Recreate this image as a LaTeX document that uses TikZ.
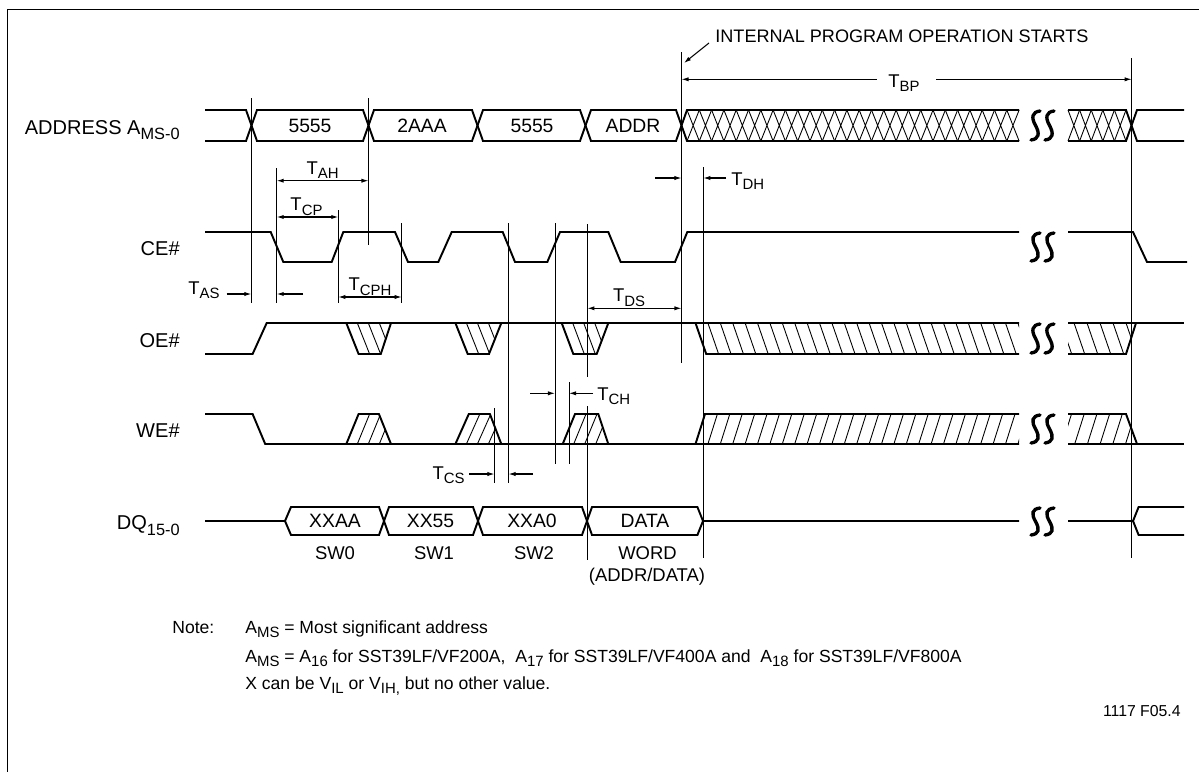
\documentclass[tikz,border=0pt]{standalone}
\usepackage{fontspec}
\setmainfont{Liberation Sans}
\usetikzlibrary{arrows.meta}
\newcommand{\lo}[1]{\raisebox{-0.45ex}{\fontsize{8.5pt}{9pt}\selectfont #1}}
\newcommand{\lob}[1]{\raisebox{-3.2pt}{\fontsize{9.3pt}{10pt}\selectfont #1}}
\newcommand{\ess}[3]{\draw[brk] (#1+9,#2+1) .. controls (#1+1,#2+2) and (#1,#2/2+#3/2-8) .. (#1+4.5,#2/2+#3/2) .. controls (#1+9,#2/2+#3/2+8) and (#1+8,#3-2) .. (#1,#3-1);}
\newcommand{\brk}[2]{\ess{1031}{#1}{#2}\ess{1045}{#1}{#2}}
\newcommand{\oetrap}[4]{\draw[sig] (#1,323) -- (#2,354) -- (#3,354) -- (#4,323);
  \begin{scope}
    \clip (#1,323) -- (#2,354) -- (#3,354) -- (#4,323) -- cycle;
    \foreach \hh in {11,22,33} \draw[hatch] (#1+\hh,323) -- (#2+\hh,354);
  \end{scope}}
\newcommand{\wetrap}[4]{\draw[sig] (#1,444) -- (#2,414) -- (#3,414) -- (#4,444);
  \begin{scope}
    \clip (#1,444) -- (#2,414) -- (#3,414) -- (#4,444) -- cycle;
    \foreach \hh in {11,22,33} \draw[hatch] (#1+\hh,444) -- (#2+\hh,414);
  \end{scope}}
\tikzset{
  sig/.style={line width=1.1pt},
  guide/.style={line width=0.55pt},
  hatch/.style={line width=0.5pt},
  brk/.style={line width=1.9pt, line cap=round},
  dimarrow/.style={line width=0.6pt, -{Latex[length=4pt,width=2.4pt]}},
  dimboth/.style={line width=0.6pt, {Latex[length=4pt,width=2.4pt]}-{Latex[length=4pt,width=2.4pt]}},
  signame/.style={inner sep=0pt, anchor=base east, font=\fontsize{11.4pt}{13pt}\selectfont},
  lbl/.style={inner sep=0pt, font=\fontsize{10.5pt}{12pt}\selectfont},
  val/.style={inner sep=0pt, font=\fontsize{11pt}{13pt}\selectfont},
  note/.style={inner sep=0pt, font=\fontsize{10pt}{12pt}\selectfont},
  fig/.style={inner sep=0pt, font=\fontsize{9pt}{10pt}\selectfont}
}
\begin{document}
\begin{tikzpicture}[x=0.02cm, y=-0.02cm]
\useasboundingbox (0,0) rectangle (1199,771);
% frame
\draw[line width=0.9pt] (7.6,9.5) rectangle (1215,790);

% signal names
\node[signame] (addr) at (180,134.3) {ADDRESS A\lob{MS-0}};
\node[signame] (ce) at (180,255.5) {CE\#};
\node[signame] (oe) at (180,347) {OE\#};
\node[signame] (we) at (180,437.5) {WE\#};
\node[signame] (dq) at (180,529.5) {DQ\lob{15-0}};

% address
\draw[sig] (205,110) -- (246,110) -- (257,141) -- (363,141) -- (374,110) -- (472,110) -- (483,141) -- (580,141) -- (591,110) -- (676,110) -- (687,141) -- (1019,141);
\draw[sig] (205,141) -- (246,141) -- (257,110) -- (363,110) -- (374,141) -- (472,141) -- (483,110) -- (580,110) -- (591,141) -- (676,141) -- (687,110) -- (1019,110);
\draw[sig] (1068,110) -- (1126,110) -- (1137,141) -- (1184,141);
\draw[sig] (1068,141) -- (1126,141) -- (1137,110) -- (1184,110);
\foreach \i in {0,...,26}
  \draw[hatch] (687+\i*12.3,110) -- (699.3+\i*12.3,141) (699.3+\i*12.3,110) -- (687+\i*12.3,141);
\foreach \i in {0,...,4}
  \draw[hatch] (1068+\i*11.6,110) -- (1079.6+\i*11.6,141) (1079.6+\i*11.6,110) -- (1068+\i*11.6,141);
\node[val] (a1) at (310,125.5) {5555};
\node[val] (a2) at (422,125.5) {2AAA};
\node[val] (a3) at (532,125.5) {5555};
\node[val] (a4) at (633,125.5) {ADDR};

% CE#
\draw[sig] (205,232) -- (270.7,232) -- (283.3,262) -- (331.7,262) -- (343.3,232) -- (395,232) -- (408,262) -- (438.3,262) -- (451.7,232) -- (502.7,232) -- (515,262) -- (547.3,262) -- (560,232) -- (608.3,232) -- (620.7,262) -- (675,262) -- (687.3,232) -- (1019,232);
\draw[sig] (1068,232) -- (1133,232) -- (1147,262) -- (1187,262);

% OE#
\draw[sig] (205,354) -- (252.6,354) -- (266.7,323) -- (1019,323);
\oetrap{346.3}{358.6}{380.8}{391}
\oetrap{455.4}{467.7}{489}{501.3}
\oetrap{561.7}{573.3}{596.7}{608.3}
\draw[sig] (695.5,323) -- (706.2,354) -- (1019,354);
\begin{scope}
  \clip (695.5,323) -- (706.2,354) -- (1019,354) -- (1019,323) -- cycle;
  \foreach \i in {0,...,26} \draw[hatch] (695.5+\i*12.4,323) -- (706.2+\i*12.4,354);
\end{scope}
\draw[sig] (1068,323) -- (1184,323);
\draw[sig] (1068,354) -- (1126,354) -- (1136,323);
\begin{scope}
  \clip (1068,323) -- (1136,323) -- (1126,354) -- (1068,354) -- cycle;
  \foreach \i in {0,...,5} \draw[hatch] (1061+\i*13,323) -- (1071.7+\i*13,354);
\end{scope}

% WE#
\draw[sig] (205,414) -- (252.6,414) -- (265.2,444) -- (1019,444);
\wetrap{346.3}{358.6}{378.9}{391}
\wetrap{455.4}{468.8}{489.9}{501.3}
\wetrap{562.7}{575}{598.3}{608.3}
\draw[sig] (695.5,444) -- (705,414) -- (1019,414);
\begin{scope}
  \clip (695.5,444) -- (705,414) -- (1019,414) -- (1019,444) -- cycle;
  \foreach \i in {0,...,26} \draw[hatch] (695.5+\i*12.4,444) -- (705+\i*12.4,414);
\end{scope}
\draw[sig] (1068,444) -- (1184,444);
\draw[sig] (1068,414) -- (1126,414) -- (1137,444);
\begin{scope}
  \clip (1068,414) -- (1126,414) -- (1137,444) -- (1068,444) -- cycle;
  \foreach \i in {0,...,5} \draw[hatch] (1062+\i*12.7,444) -- (1071.5+\i*12.7,414);
\end{scope}

% DQ
\draw[sig] (205,521) -- (285,521) -- (291,535) -- (379,535) -- (389,507) -- (473,507) -- (483,535) -- (582,535) -- (592,507) -- (697.4,507) -- (703,521) -- (1019,521);
\draw[sig] (285,521) -- (291,507) -- (379,507) -- (389,535) -- (473,535) -- (483,507) -- (582,507) -- (592,535) -- (697.4,535) -- (703,521);
\draw[sig] (1068,521) -- (1133,521) -- (1138.6,507) -- (1184,507);
\draw[sig] (1133,521) -- (1138.6,535) -- (1184,535);
\node[val] (d1) at (335,521) {XXAA};
\node[val] (d2) at (430.5,521) {XX55};
\node[val] (d3) at (532,521) {XXA0};
\node[val] (d4) at (645,521) {DATA};
\node[lbl] (sw0) at (335,552.7) {SW0};
\node[lbl] (sw1) at (434,552.7) {SW1};
\node[lbl] (sw2) at (534,552.7) {SW2};
\node[lbl] (word) at (647.5,552.7) {WORD};
\node[lbl] (ad) at (647,577) {(ADDR/DATA)};

% breaks
\brk{110}{141}
\brk{232}{262}
\brk{323}{354}
\brk{414}{444}
\brk{507}{536}

% guide lines
\draw[guide] (251.4,98) -- (251.4,303);
\draw[guide] (368.5,98) -- (368.5,245);
\draw[guide] (276.7,168) -- (276.7,303);
\draw[guide] (338.3,210) -- (338.3,303);
\draw[guide] (401.7,223) -- (401.7,303);
\draw[guide] (508.5,223) -- (508.5,483);
\draw[guide] (555,223) -- (555,464);
\draw[guide] (587.4,224) -- (587.4,377);
\draw[guide] (587.4,406) -- (587.4,560);
\draw[guide] (569,382) -- (569,464);
\draw[guide] (494.5,408) -- (494.5,483);
\draw[guide] (681.5,52) -- (681.5,363);
\draw[guide] (703.3,167) -- (703.3,558);
\draw[guide] (1131.7,58) -- (1131.7,558);

% timing parameters
\coordinate (ipstart) at (709,43);
\coordinate (ipend) at (684,63);
\node[lbl, anchor=west, font=\fontsize{10.3pt}{12pt}\selectfont] (ipos) at (715,36) {INTERNAL PROGRAM OPERATION STARTS};
\draw[dimarrow] (ipstart) -- (ipend);
\draw[line width=0.6pt, {Latex[length=4pt,width=2.4pt]}-] (681.5,79.3) -- (877,79.3);
\draw[dimarrow] (936,79.3) -- (1131.7,79.3);
\node[lbl] (tbp) at (904,83) {T\lo{BP}};
\draw[dimboth] (276.7,180.7) -- (368.5,180.7);
\node[lbl, anchor=south] (tah) at (322.6,179) {T\lo{AH}};
\draw[dimboth] (276.7,217) -- (338.3,217);
\node[lbl, anchor=south] (tcp) at (306.5,215.5) {T\lo{CP}};
\draw[dimboth] (338.3,297) -- (401.7,297);
\node[lbl, anchor=south] (tcph) at (370,295.5) {T\lo{CPH}};
\node[lbl, anchor=east] (tas) at (220,290) {T\lo{AS}};
\draw[dimarrow] (226.7,294) -- (251.4,294);
\draw[dimarrow] (303,294) -- (276.7,294);
\draw[dimboth] (587.4,308.3) -- (681.5,308.3);
\node[lbl, anchor=south] (tds) at (629,306.5) {T\lo{DS}};
\draw[dimarrow] (655,178) -- (681.5,178);
\draw[dimarrow] (726,178) -- (703.3,178);
\node[lbl, anchor=west] (tdh) at (731,181) {T\lo{DH}};
\draw[dimarrow] (530,393.3) -- (555,393.3);
\draw[dimarrow] (593,393.3) -- (569,393.3);
\node[lbl, anchor=west] (tch) at (597,396) {T\lo{CH}};
\draw[dimarrow] (469,474) -- (494.5,474);
\draw[dimarrow] (533,474) -- (508.5,474);
\node[lbl, anchor=east] (tcs) at (465,475) {T\lo{CS}};

% notes
\node[note, anchor=base west] (note) at (172,633) {Note:};
\node[note, anchor=base west] (n1) at (245,633) {A\lo{MS} = Most significant address};
\node[note, anchor=base west] (n2) at (245,662) {A\lo{MS} = A\lo{16} for SST39LF/VF200A,~~A\lo{17} for SST39LF/VF400A and~~A\lo{18} for SST39LF/VF800A};
\node[note, anchor=base west] (n3) at (245,689) {X can be V\lo{IL} or V\lo{IH,} but no other value.};
\node[fig, anchor=base east] (figno) at (1181,716) {1117 F05.4};
\end{tikzpicture}
\end{document}
